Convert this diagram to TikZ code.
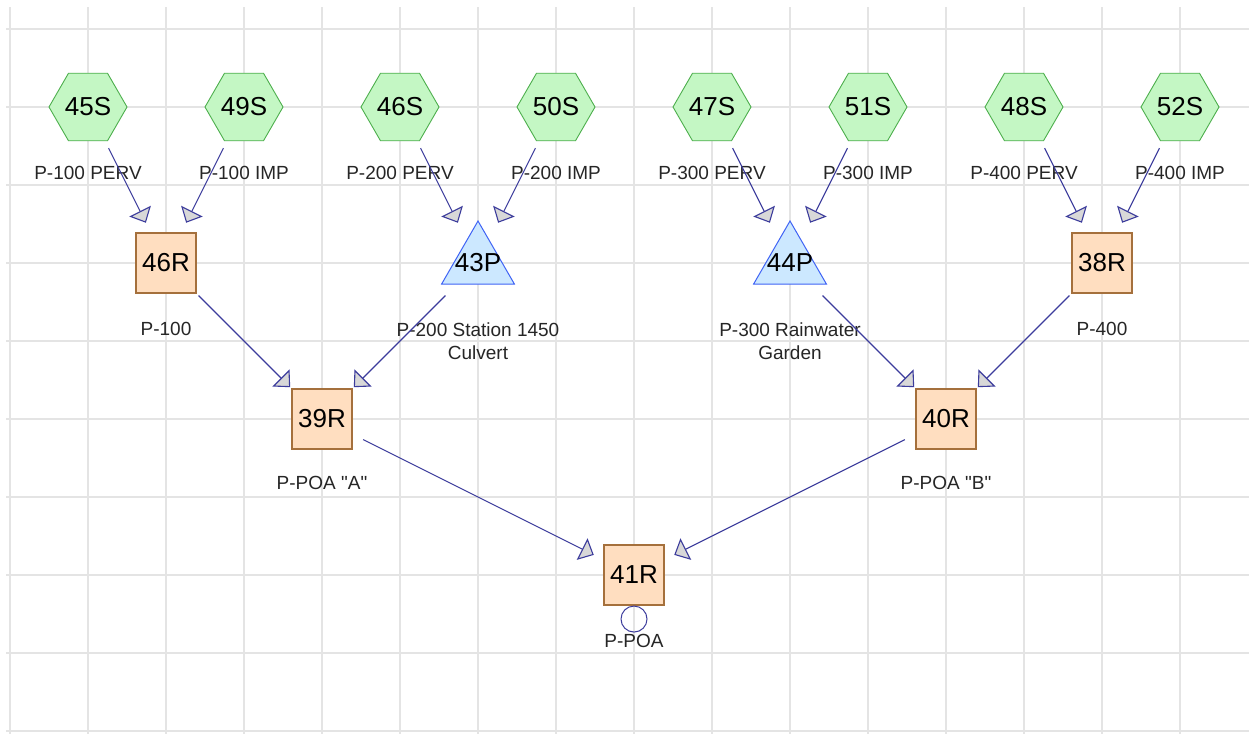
\documentclass[tikz,border=0pt]{standalone}
\usepackage{fontspec}
\setmainfont{Liberation Sans}
\usepackage{xcolor}
\usepackage{tikz}
\usetikzlibrary{arrows.meta,positioning,shapes.geometric}
\definecolor{cSub}{HTML}{C4F7C4}
\definecolor{cSubEdge}{HTML}{4DAF4D}
\definecolor{cReach}{HTML}{FFDEC0}
\definecolor{cReachEdge}{HTML}{A5703C}
\definecolor{cPond}{HTML}{CCE8FF}
\definecolor{cPondEdge}{HTML}{3F63F5}
\definecolor{cLink}{HTML}{3C3C9C}
\definecolor{cTip}{HTML}{D8D8D8}
\definecolor{cGrid}{HTML}{E4E4E4}
\tikzset{
  subcat/.style={regular polygon,regular polygon sides=6,draw=cSubEdge,fill=cSub,line width=0.9pt,minimum size=78pt,inner sep=0pt,font=\fontsize{26}{30}\selectfont},
  reach/.style={rectangle,draw=cReachEdge,fill=cReach,line width=1.1pt,minimum size=60pt,inner sep=0pt,font=\fontsize{26}{30}\selectfont},
  pond/.style={regular polygon,regular polygon sides=3,draw=cPondEdge,fill=cPond,line width=1pt,minimum size=84pt,inner sep=-12pt,font=\fontsize{26}{30}\selectfont},
  outlet/.style={circle,draw=cLink,line width=1pt,minimum size=26pt,inner sep=0pt},
  lbl/.style={font=\fontsize{19}{23}\selectfont,text=black!85,align=center,inner sep=0pt},
  flow/.style={draw=cLink,line width=1.1pt,-{Triangle[width=24pt,length=13pt,fill=cTip]},shorten <=46pt,shorten >=45pt},
  gridline/.style={draw=cGrid,line width=1.2pt}
}

\begin{document}
\begin{tikzpicture}[x=78pt, y=-78pt]
    \useasboundingbox (-0.1282,-0.3718) rectangle (15.8846,9.0385);
    \fill[white] (-0.1282,-0.3718) rectangle (15.8846,9.0385);

    % Grid
    \foreach \i in {0,...,15}
      \draw[gridline] (\i,-0.28) -- (\i,9.0385);
    \foreach \j in {0,...,9}
      \draw[gridline] (-0.05,\j) -- (15.8846,\j);

    % Nodes
    \node[subcat] (s45) at (1,1) {45S};
    \node[subcat] (s49) at (3,1) {49S};
    \node[subcat] (s46) at (5,1) {46S};
    \node[subcat] (s50) at (7,1) {50S};
    \node[subcat] (s47) at (9,1) {47S};
    \node[subcat] (s51) at (11,1) {51S};
    \node[subcat] (s48) at (13,1) {48S};
    \node[subcat] (s52) at (15,1) {52S};
    \node[reach] (r46) at (2,3) {46R};
    \node[pond] (p43) at (6,3) {43P};
    \node[pond] (p44) at (10,3) {44P};
    \node[reach] (r38) at (14,3) {38R};
    \node[reach] (r39) at (4,5) {39R};
    \node[reach] (r40) at (12,5) {40R};
    \node[reach] (r41) at (8,7) {41R};
    \node[outlet, below=0pt of r41] (o41) {};

    % Labels
    \node[lbl, below=59pt of s45.center] (l45) {P-100 PERV};
    \node[lbl, below=59pt of s49.center] (l49) {P-100 IMP};
    \node[lbl, below=59pt of s46.center] (l46) {P-200 PERV};
    \node[lbl, below=59pt of s50.center] (l50) {P-200 IMP};
    \node[lbl, below=59pt of s47.center] (l47) {P-300 PERV};
    \node[lbl, below=59pt of s51.center] (l51) {P-300 IMP};
    \node[lbl, below=59pt of s48.center] (l48) {P-400 PERV};
    \node[lbl, below=59pt of s52.center] (l52) {P-400 IMP};
    \node[lbl, below=59pt of r46.center] (lr46) {P-100};
    \node[lbl, below=60pt of p43.center] (lp43) {P-200 Station 1450\\Culvert};
    \node[lbl, below=60pt of p44.center] (lp44) {P-300 Rainwater\\Garden};
    \node[lbl, below=59pt of r38.center] (lr38) {P-400};
    \node[lbl, below=57pt of r39.center] (lr39) {P-POA \textquotedbl A\textquotedbl};
    \node[lbl, below=57pt of r40.center] (lr40) {P-POA \textquotedbl B\textquotedbl};
    \node[lbl, below=59pt of r41.center] (lr41) {P-POA};

    % Paths
    \draw[flow] (s45.center) -- (r46.center);
    \draw[flow] (s49.center) -- (r46.center);
    \draw[flow] (s46.center) -- (p43.center);
    \draw[flow] (s50.center) -- (p43.center);
    \draw[flow] (s47.center) -- (p44.center);
    \draw[flow] (s51.center) -- (p44.center);
    \draw[flow] (s48.center) -- (r38.center);
    \draw[flow] (s52.center) -- (r38.center);
    \draw[flow] (r46.center) -- (r39.center);
    \draw[flow] (p43.center) -- (r39.center);
    \draw[flow] (p44.center) -- (r40.center);
    \draw[flow] (r38.center) -- (r40.center);
    \draw[flow] (r39.center) -- (r41.center);
    \draw[flow] (r40.center) -- (r41.center);
  \end{tikzpicture}
\end{document}
